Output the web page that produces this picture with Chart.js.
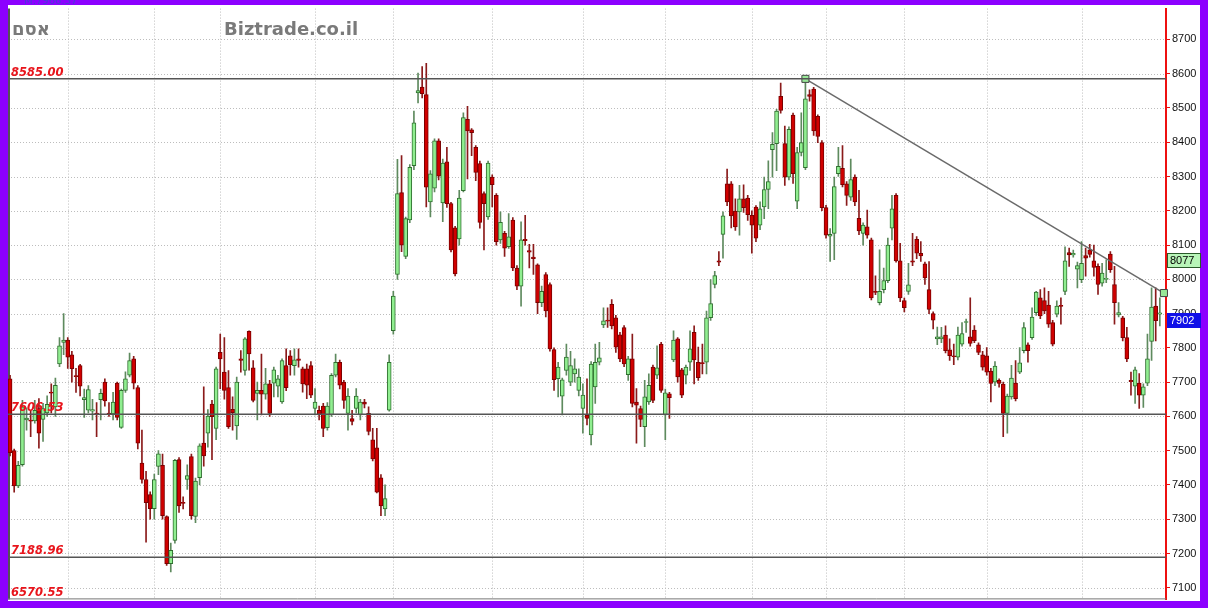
<!DOCTYPE html>
<html>
<head>
<meta charset="utf-8">
<script src="https://cdn.jsdelivr.net/npm/chart.js@4.4.1/dist/chart.umd.min.js"></script>
<style>
html,body{margin:0;padding:0;background:#8c00ff;}
canvas{display:block;}
</style>
</head>
<body>
<canvas id="c" width="1208" height="608"></canvas>
<script>
// ---- data ----
const opens = [7710,7500,7397,7459,7590,7588,7587,7623,7591,7610,7671,7628,7753,7816,7823,7780,7717,7748,7649,7618,
7615,7610,7649,7700,7608,7607,7697,7568,7676,7720,7768,7684,7464,7416,7372,7331,7454,7457,7308,7170,
7238,7474,7348,7416,7483,7308,7421,7522,7551,7636,7565,7787,7729,7684,7621,7572,7768,7734,7848,7742,
7667,7676,7665,7695,7697,7688,7642,7748,7777,7748,7768,7739,7739,7748,7623,7618,7630,7567,7604,7720,
7758,7700,7609,7594,7623,7604,7642,7609,7532,7508,7421,7330,7618,7850,8014,8253,8067,8173,8332,8544,
8561,8539,8226,8266,8404,8223,8343,8221,8150,8118,8259,8467,8436,8385,8338,8250,8182,8298,8245,8115,
8134,8095,8173,8033,7980,8117,8084,8065,8042,7932,8014,7985,7795,7710,7659,7734,7700,7724,7676,7623,
7604,7546,7686,7758,7867,7880,7927,7888,7838,7859,7722,7768,7642,7623,7570,7642,7744,7720,7811,7604,
7666,7765,7826,7736,7720,7758,7845,7758,7756,7758,7888,7985,8054,8131,8279,8279,8199,8197,8235,8237,
8187,8211,8158,8211,8262,8378,8396,8534,8396,8298,8479,8228,8370,8326,8539,8555,8476,8399,8209,8126,
8134,8308,8324,8279,8240,8298,8178,8134,8153,8115,7964,7932,7970,7996,8149,8245,8054,7938,7965,8054,
8117,8076,8045,7970,7900,7826,7826,7837,7794,7775,7773,7811,7874,7832,7852,7809,7780,7777,7732,7700,
7705,7694,7609,7657,7697,7729,7792,7809,7830,7903,7946,7938,7925,7874,7898,7922,7965,8078,8071,8030,
7999,8069,8086,8054,8038,7989,8000,8074,7985,7896,7888,7830,7705,7688,7697,7662,7697,7819,7922,7898];
const highs = [7720,7505,7469,7647,7625,7618,7647,7652,7638,7660,7695,7712,7830,7900,7830,7790,7740,7752,7680,7690,
7650,7640,7680,7710,7640,7670,7700,7680,7730,7785,7775,7690,7560,7440,7380,7432,7500,7490,7310,7230,
7475,7480,7365,7459,7490,7420,7520,7686,7620,7647,7744,7840,7830,7734,7657,7715,7792,7830,7850,7763,
7700,7782,7740,7705,7744,7720,7768,7797,7792,7797,7797,7744,7753,7760,7681,7630,7638,7640,7725,7782,
7764,7705,7681,7618,7681,7650,7650,7628,7565,7565,7430,7400,7780,7965,8350,8361,8182,8335,8491,8602,
8621,8630,8317,8410,8410,8351,8385,8225,8155,8260,8486,8505,8440,8390,8345,8255,8345,8305,8250,8197,
8140,8192,8180,8040,8168,8187,8102,8102,8045,7980,8020,7990,7800,7758,7712,7811,7790,7768,7739,7695,
7710,7760,7811,7816,7917,7917,7941,7895,7845,7865,7775,7840,7681,7630,7705,7724,7750,7806,7816,7680,
7670,7850,7830,7740,7750,7850,7864,7802,7811,7907,7999,8023,8081,8197,8322,8285,8235,8274,8276,8245,
8200,8215,8226,8298,8346,8428,8496,8573,8447,8445,8485,8385,8486,8585,8553,8560,8480,8405,8216,8148,
8298,8385,8390,8285,8351,8305,8260,8165,8202,8120,8010,8086,8033,8120,8245,8250,8105,7945,8047,8134,
8125,8110,8050,8052,7905,7861,7860,7864,7826,7811,7861,7874,7884,7946,7865,7815,7790,7801,7740,7760,
7710,7700,7665,7749,7763,7801,7874,7815,7917,7965,7970,7975,7965,7880,7937,7946,8095,8091,8085,8050,
8110,8091,8102,8100,8045,8047,8057,8081,8038,7932,7892,7860,7729,7744,7725,7695,7840,7975,7975,7946];
const lows = [7485,7379,7392,7455,7560,7541,7580,7507,7527,7600,7610,7600,7745,7780,7740,7700,7670,7660,7597,7610,
7590,7541,7590,7630,7600,7590,7590,7565,7670,7715,7680,7505,7405,7233,7300,7300,7430,7300,7165,7146,
7230,7320,7330,7387,7300,7290,7400,7455,7510,7474,7532,7681,7650,7565,7560,7533,7729,7720,7735,7642,
7590,7604,7650,7600,7657,7657,7638,7675,7720,7720,7744,7671,7652,7655,7604,7590,7541,7560,7600,7715,
7680,7623,7560,7575,7610,7590,7625,7546,7470,7377,7310,7310,7615,7840,8000,8081,8060,8165,8320,8515,
8529,8211,8182,8255,8290,8168,8210,8080,8010,8100,8255,8293,8361,8288,8149,8086,8175,8211,8100,8105,
8067,8090,8025,7970,7922,8100,8033,8014,7900,7920,7890,7790,7676,7657,7604,7720,7690,7700,7660,7551,
7575,7517,7638,7750,7859,7860,7855,7787,7760,7745,7705,7628,7522,7570,7512,7635,7640,7710,7670,7532,
7594,7760,7700,7655,7695,7734,7695,7705,7724,7724,7880,7975,8040,8062,8215,8150,8143,8129,8195,8172,
8076,8110,8145,8177,8206,8298,8317,8485,8274,8290,8280,8206,8360,8320,8520,8420,8399,8200,8120,8052,
8057,8300,8270,8216,8230,8215,8130,8100,8120,7940,7955,7925,7960,7990,8115,8050,7935,7905,7956,8040,
8060,8052,7985,7900,7855,7809,7815,7785,7763,7751,7765,7805,7845,7805,7815,7780,7735,7720,7642,7690,
7685,7541,7551,7650,7645,7725,7785,7758,7825,7895,7885,7900,7860,7806,7890,7869,7955,8038,8065,7975,
7990,8009,8065,8009,7956,7980,7990,8020,7869,7890,7820,7760,7662,7638,7623,7626,7690,7763,7820,7864];
const closes = [7494,7397,7457,7628,7595,7586,7618,7551,7623,7635,7668,7691,7806,7823,7773,7739,7716,7688,7655,7678,
7620,7605,7667,7645,7607,7642,7597,7676,7710,7763,7697,7522,7416,7348,7331,7416,7491,7310,7170,7209,
7472,7339,7346,7427,7310,7411,7514,7485,7601,7599,7739,7768,7676,7570,7611,7700,7763,7826,7782,7647,
7676,7665,7695,7609,7736,7710,7763,7684,7751,7765,7763,7695,7691,7662,7642,7604,7565,7630,7720,7758,
7691,7647,7659,7585,7659,7642,7636,7556,7476,7379,7339,7360,7758,7951,8250,8100,8177,8327,8457,8551,
8542,8269,8308,8404,8301,8339,8221,8086,8016,8237,8472,8433,8428,8312,8166,8221,8339,8276,8110,8166,
8091,8124,8033,7980,8115,8113,8079,8060,7932,7965,7908,7797,7707,7744,7707,7773,7748,7739,7715,7662,
7594,7753,7758,7771,7879,7878,7864,7802,7768,7753,7768,7638,7633,7591,7657,7691,7647,7742,7676,7669,
7655,7823,7715,7662,7744,7797,7765,7713,7754,7888,7929,8011,8050,8185,8226,8185,8153,8235,8209,8189,
8158,8120,8206,8262,8285,8394,8491,8493,8298,8438,8308,8370,8399,8527,8534,8433,8417,8209,8129,8131,
8271,8330,8276,8245,8291,8226,8141,8158,8129,7946,7962,7965,7996,8100,8206,8054,7946,7917,7984,8050,
8076,8068,8004,7912,7881,7832,7832,7792,7777,7774,7837,7842,7877,7813,7821,7787,7744,7729,7696,7747,
7696,7609,7659,7712,7652,7756,7859,7792,7890,7963,7893,7908,7869,7811,7922,7921,8054,8071,8076,8040,
8047,8062,8073,8035,7985,8018,8002,8028,7932,7903,7830,7768,7701,7736,7662,7686,7768,7919,7879,7902];
const slotCount = 281;                       // 280 sessions + one empty slot on the right
const monthStarts = [14,35,51,74,93,117,139,159,180,198,217,237,260];
const yTicks = [7100,7200,7300,7400,7500,7600,7700,7800,7900,8000,8100,8200,8300,8400,8500,8600,8700];
const levels = [8585.00, 7606.53, 7188.96, 6570.55];
const levelLabels = ['8585.00','7606.53','7188.96','6570.55'];
const trendIdx = [193, 280];
const trendVals = [8585, 7960];
const lastBoxes = [{v:8077, text:'8077', fill:'#b8f5b8', color:'#000', border:'#2a5a2a'},
                   {v:7902, text:'7902', fill:'#1010e8', color:'#fff', border:'#1010e8'}];
const title = 'אסם';
const site = 'Biztrade.co.il';
const topNote = 'M:7966.57';

// ---- build ----
const labels = Array.from({length: slotCount}, (_, i) => String(i));
const up = closes.map((c, i) => c >= opens[i]);
const wickData = highs.map((h, i) => [lows[i], h]);
const bodyData = opens.map((o, i) => [o, closes[i]]);

const YMIN = 7066, YMAX = 8790;

const deco = {
  id: 'deco',
  beforeDraw(chart) {
    const ctx = chart.ctx;
    ctx.save();
    ctx.fillStyle = '#8c00ff';
    ctx.fillRect(0, 0, 1208, 608);
    ctx.fillStyle = '#ffffff';
    ctx.fillRect(8, 5, 1192, 596);
    ctx.fillStyle = '#4a3ad8';
    ctx.font = '10px "DejaVu Sans"';
    ctx.textBaseline = 'alphabetic';
    ctx.fillText(topNote, 24, 4);
    ctx.restore();
  },
  beforeDatasetsDraw(chart) {
    const ctx = chart.ctx, a = chart.chartArea, x = chart.scales.x, y = chart.scales.y;
    ctx.save();
    ctx.strokeStyle = '#bdbdbd';
    ctx.lineWidth = 1;
    ctx.setLineDash([1, 2]);
    yTicks.forEach(v => {
      const py = Math.round(y.getPixelForValue(v)) + 0.5;
      ctx.beginPath(); ctx.moveTo(a.left, py); ctx.lineTo(a.right, py); ctx.stroke();
    });
    monthStarts.forEach(i => {
      const px = Math.round(x.getPixelForValue(i)) + 0.5;
      ctx.beginPath(); ctx.moveTo(px, a.top); ctx.lineTo(px, a.bottom); ctx.stroke();
    });
    ctx.setLineDash([]);
    ctx.strokeStyle = '#555';
    ctx.lineWidth = 2;
    ctx.beginPath(); ctx.moveTo(a.left + 1, a.top); ctx.lineTo(a.left + 1, a.bottom); ctx.stroke();
    ctx.lineWidth = 1;
    ctx.strokeStyle = '#777';
    ctx.beginPath(); ctx.moveTo(a.left, a.bottom - 0.5); ctx.lineTo(a.right, a.bottom - 0.5); ctx.stroke();
    ctx.fillStyle = '#7a7a7a';
    ctx.font = 'bold 18px "DejaVu Sans"';
    ctx.textBaseline = 'alphabetic';
    ctx.textAlign = 'left';
    ctx.fillText(title, 12, 35);
    ctx.fillText(site, 224, 35);
    ctx.restore();
  },
  afterDatasetsDraw(chart) {
    const ctx = chart.ctx, a = chart.chartArea, y = chart.scales.y;
    ctx.save();
    ctx.strokeStyle = '#555';
    ctx.lineWidth = 1.5;
    levels.forEach((v, k) => {
      const py = y.getPixelForValue(v);
      if (py >= a.top && py <= a.bottom) {
        ctx.beginPath(); ctx.moveTo(a.left, py); ctx.lineTo(a.right, py); ctx.stroke();
      }
      ctx.fillStyle = '#e8141b';
      ctx.font = 'italic bold 11.5px "DejaVu Sans"';
      ctx.textAlign = 'left';
      ctx.textBaseline = 'alphabetic';
      ctx.fillText(levelLabels[k], 11, Math.min(py, a.bottom) - 3);
    });
    ctx.restore();
  },
  afterDraw(chart) {
    const ctx = chart.ctx, y = chart.scales.y;
    ctx.save();
    ctx.font = '11px "Liberation Sans"';
    ctx.textBaseline = 'middle';
    ctx.textAlign = 'left';
    lastBoxes.forEach(b => {
      const py = Math.round(y.getPixelForValue(b.v));
      ctx.fillStyle = b.fill;
      ctx.fillRect(1167, py, 34, 15);
      ctx.strokeStyle = b.border;
      ctx.lineWidth = 1;
      ctx.strokeRect(1167.5, py + 0.5, 33, 14);
      ctx.fillStyle = b.color;
      ctx.fillText(b.text, 1170, py + 8);
    });
    ctx.restore();
  }
};

new Chart(document.getElementById('c'), {
  type: 'bar',
  data: {
    labels: labels,
    datasets: [
      {
        type: 'line',
        data: trendIdx.map((i, k) => ({x: labels[i], y: trendVals[k]})),
        borderColor: '#6a6a6a',
        borderWidth: 1.5,
        pointStyle: 'rect',
        pointRadius: 5,
        pointBackgroundColor: '#98e898',
        pointBorderColor: '#444',
        pointBorderWidth: 1,
        order: 0
      },
      {
        data: bodyData,
        backgroundColor: up.map(u => u ? '#90ee90' : '#d00000'),
        borderColor: up.map(u => u ? '#2f6f2f' : '#7a0000'),
        borderWidth: 1,
        borderSkipped: false,
        barThickness: 4,
        minBarLength: 1,
        grouped: false,
        order: 1
      },
      {
        data: wickData,
        backgroundColor: up.map(u => u ? '#5e8a5e' : '#8a1a1a'),
        borderWidth: 0,
        barThickness: 1,
        grouped: false,
        order: 2
      }
    ]
  },
  options: {
    responsive: false,
    animation: false,
    devicePixelRatio: 1,
    layout: { padding: { left: 8, top: 5, right: 8, bottom: 7 } },
    plugins: { legend: { display: false }, tooltip: { enabled: false } },
    scales: {
      x: { type: 'category', display: false, offset: true, grid: { display: false } },
      y: {
        position: 'right',
        min: YMIN,
        max: YMAX,
        afterBuildTicks: s => { s.ticks = yTicks.map(v => ({value: v})); },
        afterFit: s => { s.width = 34; },
        ticks: {
          autoSkip: false,
          color: '#111',
          padding: 2,
          font: { family: '"Liberation Sans", Arial, sans-serif', size: 11 },
          callback: v => String(v)
        },
        grid: { drawOnChartArea: false, drawTicks: true, tickLength: 4, tickColor: '#e81010', tickWidth: 1 },
        border: { color: '#ee1010', width: 2 }
      }
    }
  },
  plugins: [deco]
});
</script>
</body>
</html>
